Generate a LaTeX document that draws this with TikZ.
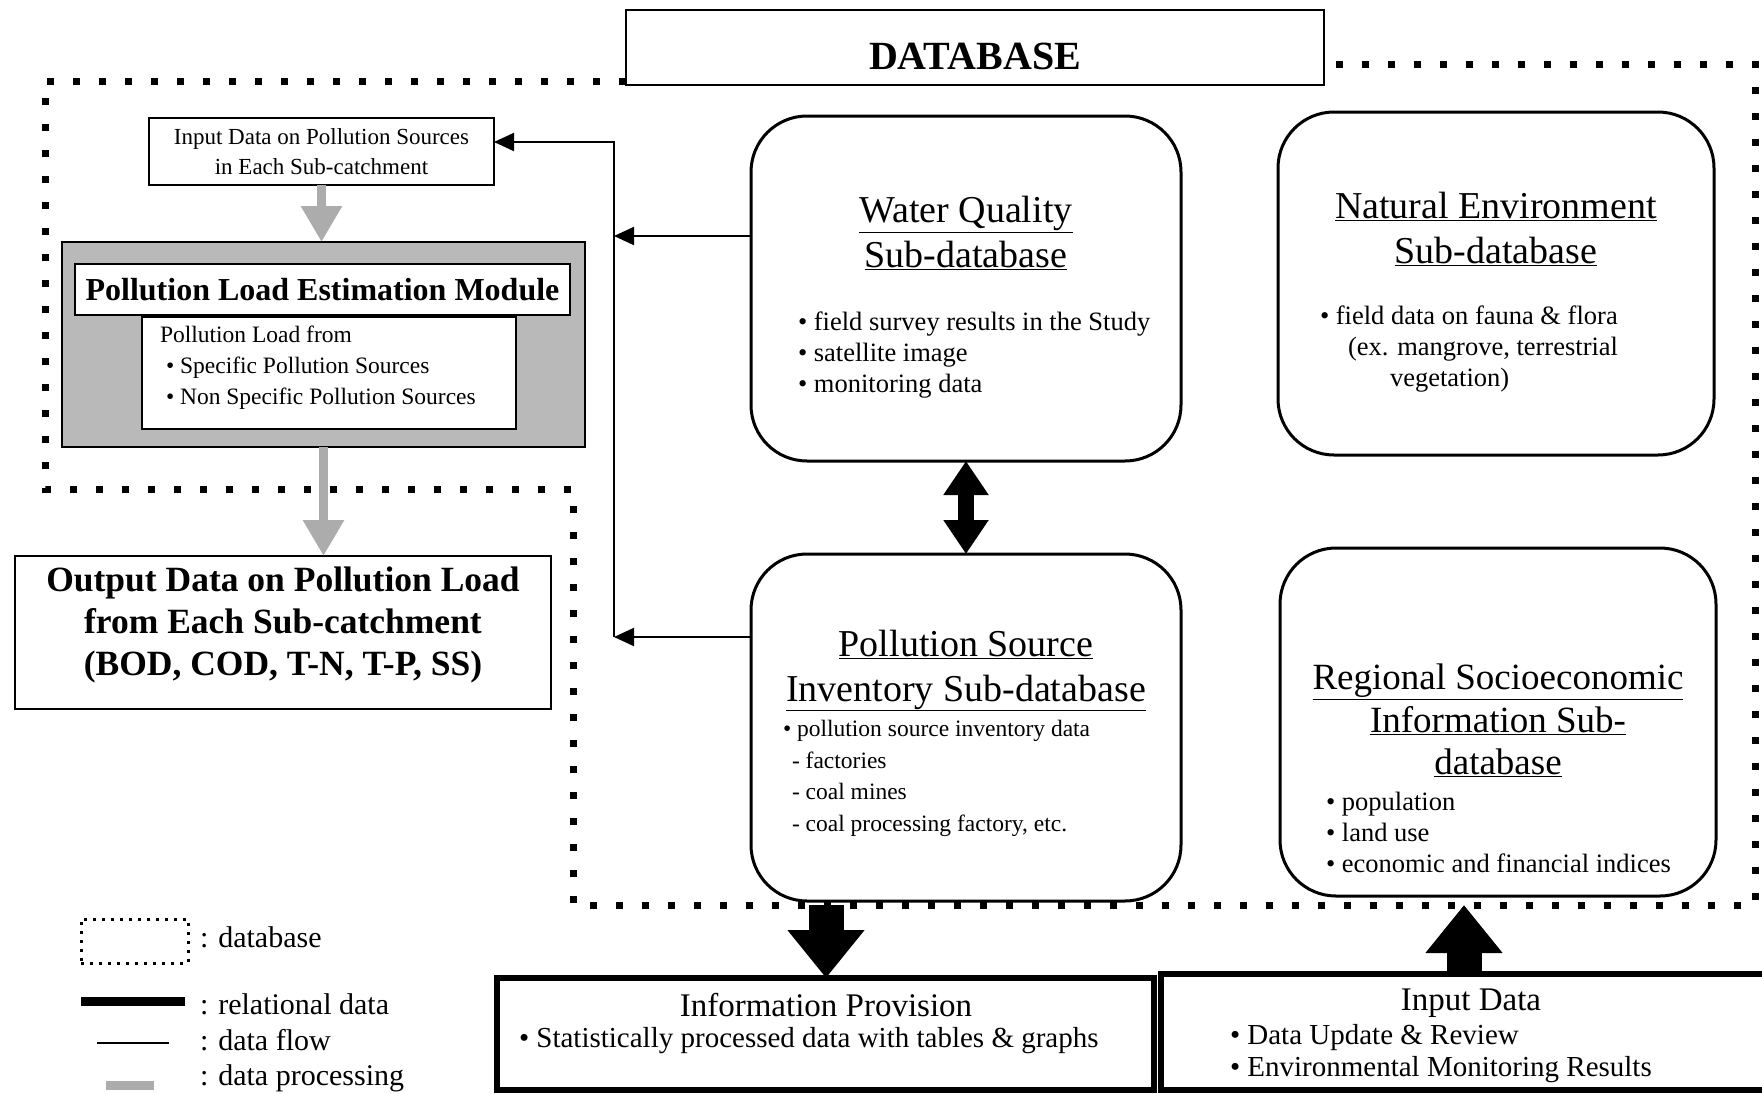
\documentclass[tikz,border=0pt]{standalone}
\usepackage{fontspec}
\setmainfont{Liberation Serif}
\usetikzlibrary{arrows.meta,calc,positioning}

\begin{document}
\begin{tikzpicture}
  [x=1pt,y=-1pt,
   every node/.style={inner sep=0pt,outer sep=0pt},
   box/.style={draw,line width=2pt,fill=white},
   subdb/.style={draw,line width=3pt,rounded corners=56pt,fill=white},
   heavybox/.style={draw,line width=6.5pt,fill=white},
   dbline/.style={line width=7pt,dash pattern=on 7pt off 19pt},
   flow/.style={line width=2pt,-{Triangle[length=20pt,width=18pt]}},
   proc/.style={line width=9pt,gray!65,-{Triangle[length=36pt,width=39pt]}},
   rel/.style={line width=35pt,-{Triangle[length=48pt,width=74pt]}},
   dbl/.style={line width=16pt,{Triangle[length=34pt,width=43pt]}-{Triangle[length=34pt,width=43pt]}},
   title/.style={align=center,font=\fontsize{38}{45}\selectfont},
   items/.style={align=left,anchor=west,font=\fontsize{26.5}{31}\selectfont},
   legend/.style={anchor=west,font=\fontsize{30}{34}\selectfont}]
  \useasboundingbox (0,0) rectangle (1762,1093);

  % database frame
  \draw[dbline] (626,81) -- (45,81) -- (45,489) -- (573,489) -- (573,905)
    -- (1755,905) -- (1755,64) -- (1324,64);
  \node[box,minimum width=698,minimum height=75,text height=43pt,text depth=0pt,
    font=\fontsize{40}{44}\selectfont\bfseries] (db) at (975,47.5) {DATABASE};

  % pollution load estimation
  \node[box,minimum width=345,minimum height=67,align=center,font=\fontsize{23}{30}\selectfont] (in) at (321.5,151.5)
    {Input Data on Pollution Sources\\in Each Sub-catchment};
  \node[draw,line width=2pt,fill=gray!55,minimum width=523,minimum height=205] (mod) at (323.5,344.5) {};
  \node[box,minimum width=495,minimum height=51,font=\fontsize{32}{36}\selectfont\bfseries] (modtitle) at (322.5,289.5)
    {Pollution Load Estimation Module};
  \node[box,minimum width=374,minimum height=112] (modbody) at (329,373) {};
  \node[items,font=\fontsize{23.5}{31}\selectfont] (modtext) at (160,368)
    {Pollution Load from\\\hspace*{6pt}\textbullet\ Specific Pollution Sources\\\hspace*{6pt}\textbullet\ Non Specific Pollution Sources};
  \node[box,minimum width=536,minimum height=153] (out) at (283,632.5) {};
  \node[align=center,font=\fontsize{35.5}{42}\selectfont\bfseries] (outtext) at (283,625)
    {Output Data on Pollution Load\\from Each Sub-catchment\\(BOD, COD, T-N, T-P, SS)};

  \draw[proc] (in.south) -- (in.south |- mod.north);
  \draw[proc] (mod.south) -- (mod.south |- out.north);

  % sub-databases
  \node[subdb,minimum width=430,minimum height=345] (wq) at (966,288.5) {};
  \node[title] (wqtitle) at (966,233) {\underline{Water Quality}\\\underline{Sub-database}};
  \node[items] (wqitems) at (798,355)
    {\textbullet\ field survey results in the Study\\\textbullet\ satellite image\\\textbullet\ monitoring data};

  \node[subdb,minimum width=436,minimum height=343] (ne) at (1496,283.5) {};
  \node[title] (netitle) at (1496,228.5) {\underline{Natural Environment}\\\underline{Sub-database}};
  \node[items] (neitems) at (1320,349.5)
    {\textbullet\ field data on fauna \& flora\\\hspace*{28pt}(ex. mangrove, terrestrial\\\hspace*{70pt}vegetation)};

  \node[subdb,minimum width=430,minimum height=347] (ps) at (966,727.5) {};
  \node[title] (pstitle) at (966,670.5) {\underline{Pollution Source}\\\underline{Inventory Sub-database}};
  \node[items,font=\fontsize{23.5}{31.7}\selectfont] (psitems) at (783,778.5)
    {\textbullet\ pollution source inventory data\\\hspace*{9pt}- factories\\\hspace*{9pt}- coal mines\\\hspace*{9pt}- coal processing factory, etc.};

  \node[subdb,minimum width=436,minimum height=348] (rs) at (1498,722) {};
  \node[title,font=\fontsize{37}{42.5}\selectfont] (rstitle) at (1498,720.5)
    {\underline{Regional Socioeconomic}\\\underline{Information Sub-}\\\underline{database}};
  \node[items] (rsitems) at (1326,832)
    {\textbullet\ population\\\textbullet\ land use\\\textbullet\ economic and financial indices};

  \draw[dbl] (wq.south) -- (ps.north);

  % data flow
  \coordinate (trunktop) at (614,142);
  \coordinate (trunkbot) at (614,637);
  \coordinate (wqout) at ($(wq.west)+(0,-52.5)$);
  \coordinate (psout) at ($(ps.west)+(0,-90.5)$);
  \draw[flow] (wqout) -- (wqout -| trunktop);
  \draw[flow] (psout) -- (psout -| trunktop);
  \draw[flow] (trunkbot) -- (trunktop) -- (trunktop -| in.east);

  % provision and input
  \coordinate (dbout) at (826,905);
  \coordinate (dbin) at (1464,905);
  \node[heavybox,minimum width=657,minimum height=112] (info) at (825.5,1034) {};
  \node[font=\fontsize{33}{36}\selectfont] (infotitle) at (826,1005) {Information Provision};
  \node[items,font=\fontsize{29}{32}\selectfont] (infoitems) at (519,1041)
    {\textbullet\ Statistically processed data with tables \& graphs};
  \node[heavybox,minimum width=609,minimum height=116] (inp) at (1465.5,1032) {};
  \node[font=\fontsize{33}{36}\selectfont] (inptitle) at (1471,1003) {Input Data};
  \node[items,font=\fontsize{29}{32}\selectfont] (inpitems) at (1230,1054)
    {\textbullet\ Data Update \& Review\\\textbullet\ Environmental Monitoring Results};
  \draw[rel] (dbout) -- (dbout |- info.north);
  \draw[rel] (inp.north -| dbin) -- (dbin);

  % legend
  \node[draw,line width=3pt,dash pattern=on 3pt off 6pt,minimum width=107,minimum height=44] (legdb) at (134.5,941) {};
  \node[legend] (legdbtext) at (200,937) {: database};
  \draw[line width=9pt] (81,1001) -- (185,1001);
  \node[legend] (legrel) at (200,1004) {: relational data};
  \draw[line width=2pt] (97,1043) -- (169,1043);
  \node[legend] (legflow) at (200,1040) {: data flow};
  \draw[line width=9pt,gray!65] (106,1085) -- (154,1085);
  \node[legend] (legproc) at (200,1078) {: data processing};
\end{tikzpicture}
\end{document}
